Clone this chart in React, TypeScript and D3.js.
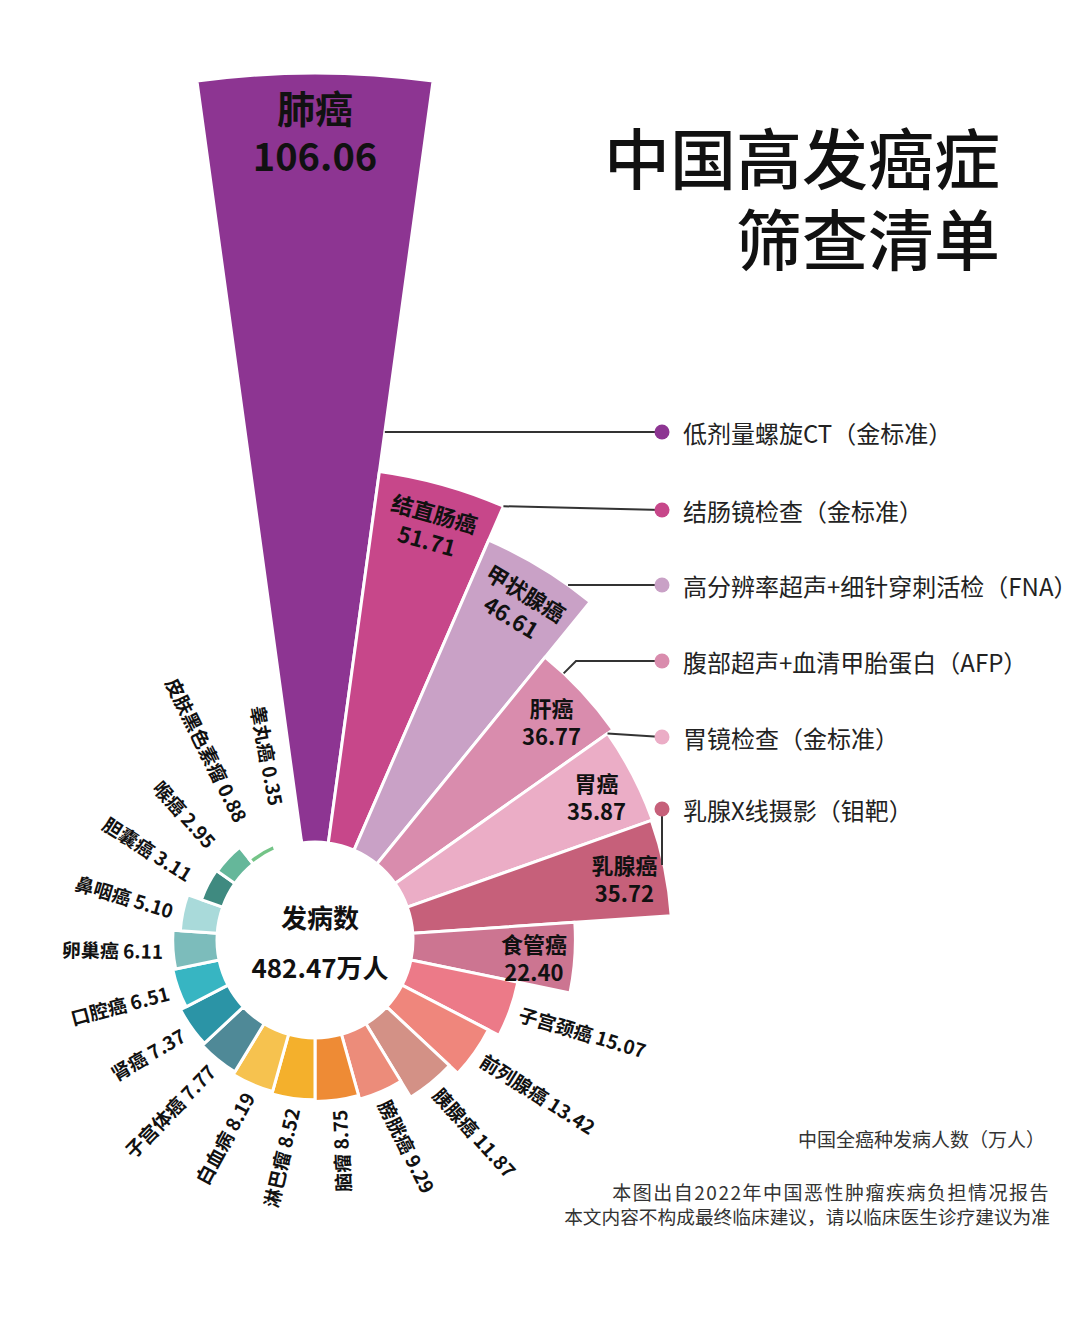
import * as d3 from 'd3';

const categories = ['肺癌', '结直肠癌', '甲状腺癌', '肝癌', '胃癌', '乳腺癌', '食管癌', '子宫颈癌', '前列腺癌', '胰腺癌', '膀胱癌', '脑瘤', '淋巴瘤', '白血病', '子宫体癌', '肾癌', '口腔癌', '卵巢癌', '鼻咽癌', '胆囊癌', '喉癌', '皮肤黑色素瘤', '睾丸癌'];
const values = [106.06, 51.71, 46.61, 36.77, 35.87, 35.72, 22.40, 15.07, 13.42, 11.87, 9.29, 8.75, 8.52, 8.19, 7.77, 7.37, 6.51, 6.11, 5.10, 3.11, 2.95, 0.88, 0.35];
const colors = ['#8d3592', '#c7478a', '#c9a1c6', '#d98cad', '#ebadc6', '#c6607a', '#cc7591', '#ec7a88', '#ef867c', '#d39186', '#ec8c7a', '#ee8b35', '#f4b02c', '#f6c24f', '#4f8997', '#2b94a6', '#37b5c2', '#7cbcbb', '#a9dada', '#3f8a80', '#65b79a', '#74c487', '#dddddd'];
const screenings = ['低剂量螺旋CT（金标准）', '结肠镜检查（金标准）', '高分辨率超声+细针穿刺活检（FNA）', '腹部超声+血清甲胎蛋白（AFP）', '胃镜检查（金标准）', '乳腺X线摄影（钼靶）'];
const totalLabel = '发病数';
const totalValue = '482.47万人';
const titleLines = ['中国高发癌症', '筛查清单'];
const unitNote = '中国全癌种发病人数（万人）';
const sourceNotes = ['本图出自2022年中国恶性肿瘤疾病负担情况报告', '本文内容不构成最终临床建议，请以临床医生诊疗建议为准'];

const W = 1080;
const H = 1332;
const cx = 315;
const cy = 940;
const inner = 98;
const FONT = '"Noto Sans CJK SC", "Noto Sans", sans-serif';

// legend layout
const dotX = 662;
const dotYs = [432, 510, 585, 661, 737, 809];

export default function App() {
  const n = values.length;
  const step = (Math.PI * 2) / n;
  const r = d3.scaleLinear().domain([0, d3.max(values)!]).range([inner, 867]);
  const arc = d3.arc<any>();
  const pt = (a: number, rad: number): [number, number] => [cx + rad * Math.sin(a), cy - rad * Math.cos(a)];
  const deg = (a: number) => (a * 180) / Math.PI;

  // connectors from wedges to the screening list
  const connectors: [number, number][][] = [];
  {
    const y0 = dotYs[0];
    connectors.push([[cx + (cy - y0) * Math.tan(step / 2), y0], [dotX, y0]]);
    connectors.push([pt(1.5 * step, r(values[1])), [dotX, dotYs[1]]]);
    const R2 = r(values[2]);
    connectors.push([[cx + Math.sqrt(R2 * R2 - (cy - dotYs[2]) ** 2), dotYs[2]], [dotX, dotYs[2]]]);
    const s3 = pt((43 * Math.PI) / 180, r(values[3]));
    connectors.push([s3, [s3[0] + (s3[1] - dotYs[3]), dotYs[3]], [dotX, dotYs[3]]]);
    connectors.push([pt(3.5 * step, r(values[4])), [dotX, dotYs[4]]]);
    const R5 = r(values[5]) - 2;
    connectors.push([[dotX, dotYs[5]], [dotX, cy - Math.sqrt(R5 * R5 - (dotX - cx) ** 2)]]);
  }

  return (
    <svg width={W} height={H} style={{ position: 'absolute', left: 0, top: 0, background: '#fff' }} fontFamily={FONT}>
      <rect width={W} height={H} fill="#fff" />

      {/* wedges */}
      <g transform={`translate(${cx},${cy})`}>
        {values.map((v, i) => (
          <path
            key={categories[i]}
            d={arc({ innerRadius: inner, outerRadius: r(v), startAngle: (i - 0.5) * step, endAngle: (i + 0.5) * step })!}
            fill={colors[i]}
            stroke="#fff"
            strokeWidth={3}
            strokeLinejoin="round"
          />
        ))}
      </g>

      {/* connectors + screening list */}
      {connectors.map((c, i) => (
        <polyline key={'c' + i} points={c.map(p => p.join(',')).join(' ')} fill="none" stroke="#333" strokeWidth={2} />
      ))}
      {screenings.map((s, i) => (
        <g key={s}>
          <circle cx={dotX} cy={dotYs[i]} r={7.5} fill={colors[i]} />
          <text x={683} y={dotYs[i]} dominantBaseline="central" fontSize={24} fill="#222">{s}</text>
        </g>
      ))}

      {/* labels inside the large wedges */}
      {values.slice(0, 7).map((v, i) => {
        const a = i * step;
        const off = i === 0 ? 60 : 41;
        const [x, y] = pt(a, r(v) - off);
        const rot = i === 1 || i === 2 ? deg(a) : 0;
        const fs = i === 0 ? 38 : 22;
        const gap = i === 0 ? 24 : 14;
        const base = i === 0 ? fs * 0.36 : fs * 0.36 + 4;
        return (
          <text key={'l' + i} transform={`translate(${x},${y}) rotate(${rot})`} fontWeight="bold" fill="#111" textAnchor="middle" fontSize={fs}>
            <tspan x={0} y={-gap + base}>{categories[i]}</tspan>
            <tspan x={0} y={gap + base}>{v.toFixed(2)}</tspan>
          </text>
        );
      })}

      {/* labels outside the small wedges */}
      {values.map((v, i) => {
        if (i < 7) return null;
        const a = i * step;
        const R = Math.max(r(v) + 10, 140);
        const [x, y] = pt(a, R);
        const outward = i <= 10;
        const rot = outward ? deg(a) - 90 - 3 : deg(a) + 90 + 5;
        return (
          <text
            key={'o' + i}
            transform={`translate(${x},${y}) rotate(${rot})`}
            textAnchor={outward ? 'start' : 'end'}
            dominantBaseline="central"
            fontSize={19}
            fontWeight="bold"
            fill="#111"
          >
            {`${categories[i]} ${v.toFixed(2)}`}
          </text>
        );
      })}

      {/* center */}
      <text textAnchor="middle" fontSize={26} fontWeight="bold" fill="#111">
        <tspan x={320} y={916 + 12}>{totalLabel}</tspan>
        <tspan x={320} y={966 + 12}>{totalValue}</tspan>
      </text>

      {/* title */}
      <text textAnchor="end" fontSize={66} fontWeight={500} fill="#111">
        {titleLines.map((t, i) => (
          <tspan key={t} x={1000} y={160 + i * 81 + 24}>{t}</tspan>
        ))}
      </text>

      {/* notes */}
      <text x={1045} y={1138} textAnchor="end" dominantBaseline="central" fontSize={19} fill="#333">{unitNote}</text>
      <text textAnchor="end" fill="#333">
        <tspan x={1050} y={1193 + 7} fontSize={19} letterSpacing={1.5}>{sourceNotes[0]}</tspan>
        <tspan x={1050} y={1217 + 7} fontSize={18.7}>{sourceNotes[1]}</tspan>
      </text>
    </svg>
  );
}
